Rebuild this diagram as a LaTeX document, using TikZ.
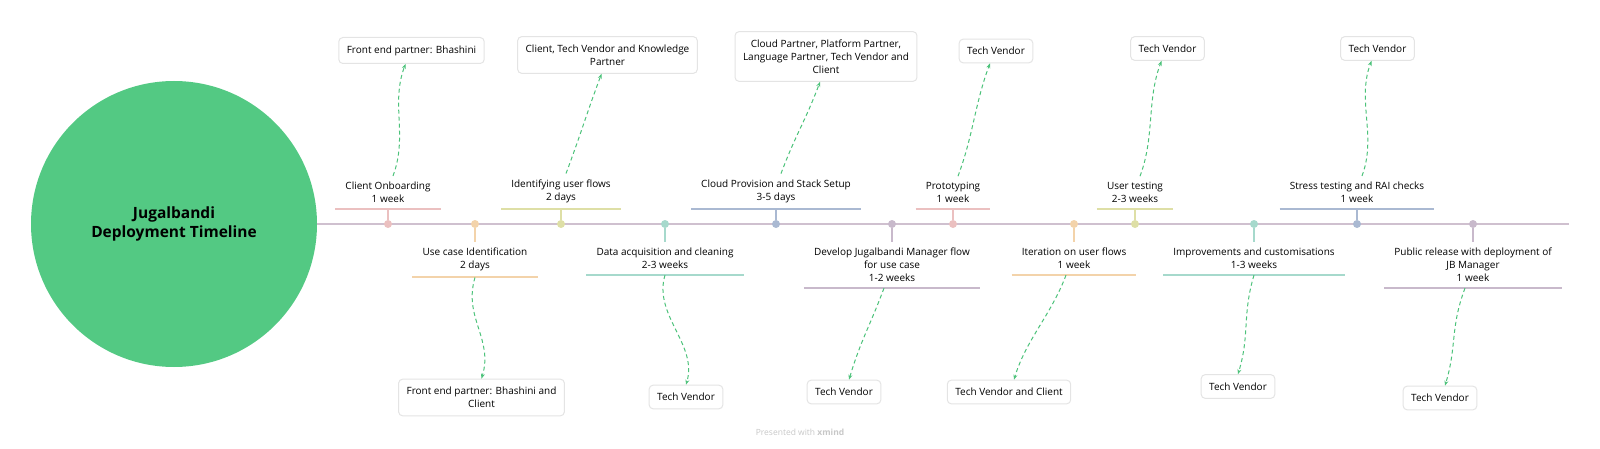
\documentclass[tikz,border=0pt]{standalone}
\usepackage{fontspec}
\setmainfont{Open Sans}
\usetikzlibrary{arrows.meta}
\definecolor{rootgreen}{HTML}{53C983}
\definecolor{linkgreen}{HTML}{4CC27A}
\definecolor{boxgrey}{HTML}{E4E4E4}
\definecolor{spine}{HTML}{CFC0CF}
\definecolor{cpink}{HTML}{EBC0C0}
\definecolor{corange}{HTML}{F3D3AA}
\definecolor{cyellow}{HTML}{DEDFA6}
\definecolor{cteal}{HTML}{A6D9CC}
\definecolor{cblue}{HTML}{AAB9D2}
\definecolor{cpurple}{HTML}{C8B9CB}

\begin{document}
\begin{tikzpicture}[x=1pt, y=-1pt,
  topic/.style={align=center, font=\fontsize{10}{13}\selectfont, inner xsep=10pt, inner ysep=6pt},
  callout/.style={draw=boxgrey, fill=white, rounded corners=4pt, line width=1pt, align=center, font=\fontsize{10}{13}\selectfont, inner xsep=8pt, inner ysep=8pt},
  link/.style={linkgreen, line width=1pt, dash pattern=on 4pt off 3pt, -{Stealth[length=5pt,width=4pt]}},
  dot/.style={circle, inner sep=0pt, minimum size=8pt},
  stem/.style={line width=2pt}]

\useasboundingbox (0,0) rectangle (1600,449);

% root and spine
\node[circle, fill=rootgreen, minimum size=286pt, align=center, font=\bfseries\fontsize{15.5}{19}\selectfont] (root) at (174,224) {Jugalbandi\\Deployment Timeline};
\coordinate (spineend) at (1569,224);
\draw[spine, stem] (root.east) -- (spineend);

% phases, above and below the spine
\node[topic, anchor=south] (t1) at (388,209) {Client Onboarding\\1 week};
\node[topic, anchor=north] (t2) at (475,242) {Use case Identification\\2 days};
\node[topic, anchor=south] (t3) at (561,209) {Identifying user flows\\2 days};
\node[topic, anchor=north] (t4) at (665,242) {Data acquisition and cleaning\\2-3 weeks};
\node[topic, anchor=south] (t5) at (776,209) {Cloud Provision and Stack Setup\\3-5 days};
\node[topic, anchor=north] (t6) at (892,242) {Develop Jugalbandi Manager flow\\for use case\\1-2 weeks};
\node[topic, anchor=south] (t7) at (953,209) {Prototyping\\1 week};
\node[topic, anchor=north] (t8) at (1074,242) {Iteration on user flows\\1 week};
\node[topic, anchor=south] (t9) at (1135,209) {User testing\\2-3 weeks};
\node[topic, anchor=north] (t10) at (1254,242) {Improvements and customisations\\1-3 weeks};
\node[topic, anchor=south] (t11) at (1357,209) {Stress testing and RAI checks\\1 week};
\node[topic, anchor=north] (t12) at (1473,242) {Public release with deployment of\\JB Manager\\1 week};

\foreach \i/\x/\c in {1/388/cpink, 2/475/corange, 3/561/cyellow, 4/665/cteal, 5/776/cblue, 6/892/cpurple, 7/953/cpink, 8/1074/corange, 9/1135/cyellow, 10/1254/cteal, 11/1357/cblue, 12/1473/cpurple} {\node[dot, fill=\c] (d\i) at (\x,224) {};}
\foreach \i/\c in {1/cpink, 3/cyellow, 5/cblue, 7/cpink, 9/cyellow, 11/cblue} {\draw[\c, stem] (d\i) -- (t\i.south);}
\foreach \i/\c in {2/corange, 4/cteal, 6/cpurple, 8/corange, 10/cteal, 12/cpurple} {\draw[\c, stem] (d\i) -- (t\i.north);}
\foreach \i/\c in {1/cpink, 2/corange, 3/cyellow, 4/cteal, 5/cblue, 6/cpurple, 7/cpink, 8/corange, 9/cyellow, 10/cteal, 11/cblue, 12/cpurple} {\draw[\c, stem] (t\i.south west) -- (t\i.south east);}

% who does it
\node[callout] (b1) at (411.5,50.5) {Front end partner: Bhashini};
\node[callout] (b2) at (481.5,397.5) {Front end partner: Bhashini and\\Client};
\node[callout] (b3) at (607.5,55) {Client, Tech Vendor and Knowledge\\Partner};
\node[callout] (b4) at (686,397) {Tech Vendor};
\node[callout] (b5) at (826,56.5) {Cloud Partner, Platform Partner,\\Language Partner, Tech Vendor and\\Client};
\node[callout] (b6) at (844,392) {Tech Vendor};
\node[callout] (b7) at (996,51) {Tech Vendor};
\node[callout] (b8) at (1009,392) {Tech Vendor and Client};
\node[callout] (b9) at (1167.5,48.5) {Tech Vendor};
\node[callout] (b10) at (1238,386.5) {Tech Vendor};
\node[callout] (b11) at (1377.5,48.5) {Tech Vendor};
\node[callout] (b12) at (1440,398) {Tech Vendor};

\foreach \i in {1,3,5,7,9,11} {\draw[link] ([xshift=5pt]t\i.north) .. controls +(15,-40) and +(-15,40) .. ([xshift=-6pt]b\i.south);}
\foreach \i in {2,4,10} {\draw[link] (t\i.south) .. controls +(-12,40) and +(12,-40) .. (b\i.north);}
\foreach \i in {6,8,12} {\draw[link] ([xshift=-8pt]t\i.south) .. controls +(-15,40) and +(12,-40) .. ([xshift=5pt]b\i.north);}

\node[font=\fontsize{8.5}{10}\selectfont, text=black!22] (credit) at (800,432) {Presented with \textbf{xmind}};

\end{tikzpicture}
\end{document}
